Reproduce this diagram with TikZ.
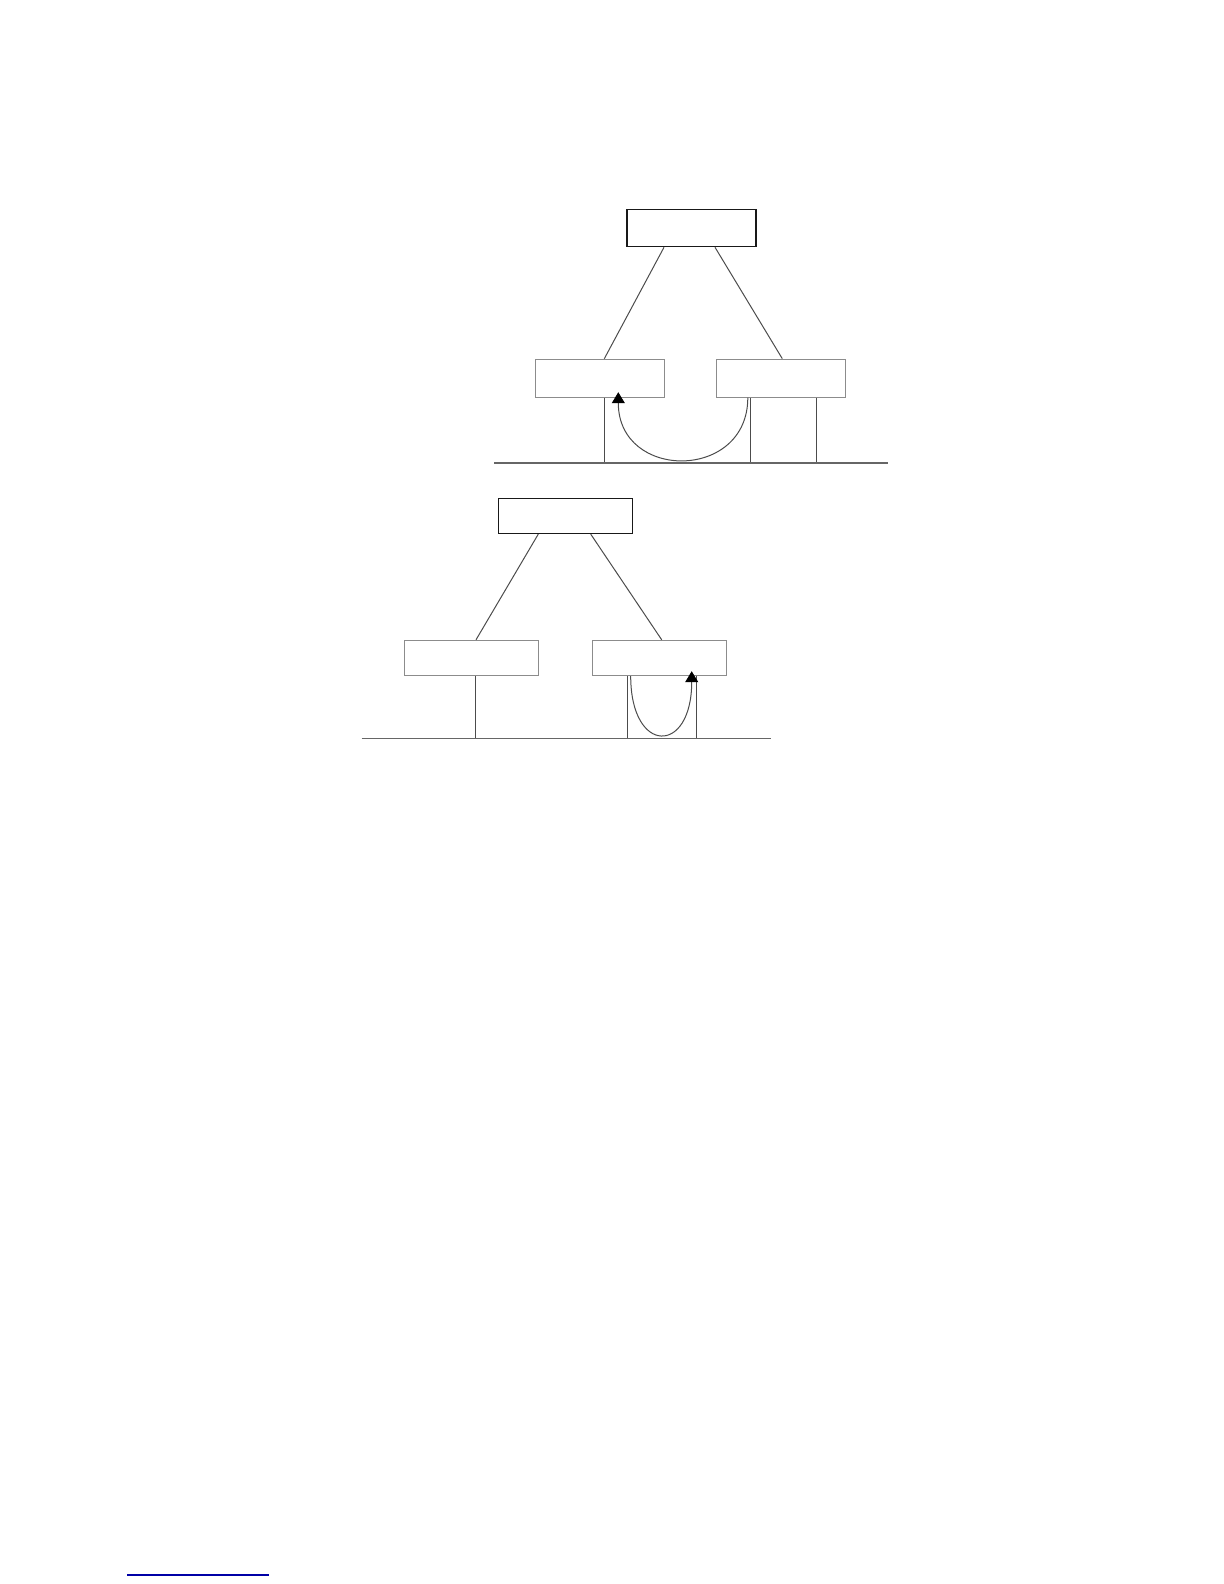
\documentclass[tikz,border=0pt]{standalone}
\usepackage{tikz}
\usetikzlibrary{arrows.meta}
\colorlet{boxgray}{black!45}
\colorlet{linkgray}{black!70}
\colorlet{linkblue}{blue!65!black}

\begin{document}
\begin{tikzpicture}[x=0.5pt, y=-0.5pt,
  rootbox/.style={rectangle, draw=black!90, line width=0.8pt, minimum width=64.5pt, minimum height=18.5pt, inner sep=0pt},
  leafbox/.style={rectangle, draw=boxgray, line width=0.5pt, minimum width=64.5pt, minimum height=19pt, inner sep=0pt},
  link/.style={draw=linkgray, line width=0.5pt},
  ground/.style={draw=black!60, line width=0.8pt},
  jump/.style={draw=linkgray, line width=0.5pt, -{Triangle[width=6.5pt, length=5.5pt, color=black]}}]
\useasboundingbox (0,0) rectangle (1224,1584);
\node[rootbox] (0) at (691.2, 228) {};
\node[leafbox] (1) at (599.8, 378.2) {};
\node[leafbox] (2) at (780.8, 378.2) {};
\node[rootbox, minimum width=67pt, minimum height=17.5pt] (3) at (565.5, 515.8) {};
\node[leafbox, minimum width=67pt, minimum height=17.7pt] (4) at (471.3, 658) {};
\node[leafbox, minimum width=67pt, minimum height=17.7pt] (5) at (659.5, 658) {};
\draw[link] ([xshift=-13.6pt]0.south) -- ([xshift=2.25pt]1.north);
\draw[link] ([xshift=11.9pt]0.south) -- ([xshift=0.75pt]2.north);
\draw[link] ([xshift=2.25pt]1.south) -- ++(0,65.8);
\draw[link] ([xshift=-15.4pt]2.south) -- ++(0,65.8);
\draw[link] ([xshift=17.75pt]2.south) -- ++(0,65.8);
\draw[ground] (494,463) -- (888,463);
\draw[jump] ([xshift=-16.5pt]2.south) .. controls +(0,83.5) and +(0,88.8) .. ([xshift=9.25pt, yshift=2.75pt]1.south);
\draw[link] ([xshift=-13.6pt]3.south) -- ([xshift=2.35pt]4.north);
\draw[link] ([xshift=12.6pt]3.south) -- ([xshift=1.1pt]5.north);
\draw[link] ([xshift=2.2pt]4.south) -- ++(0,62.6);
\draw[link] ([xshift=-16.1pt]5.south) -- ++(0,62.6);
\draw[link] ([xshift=18.6pt]5.south) -- ++(0,62.6);
\draw[ground] (361.7,738.3) -- (770.7,738.3);
\draw[jump] ([xshift=-14.4pt]5.south) .. controls +(0,78.6) and +(0,84) .. ([xshift=16.1pt, yshift=2.5pt]5.south);
\draw[linkblue, line width=1pt] (127.3,1574.7) -- (268.7,1574.7);
\end{tikzpicture}
\end{document}
